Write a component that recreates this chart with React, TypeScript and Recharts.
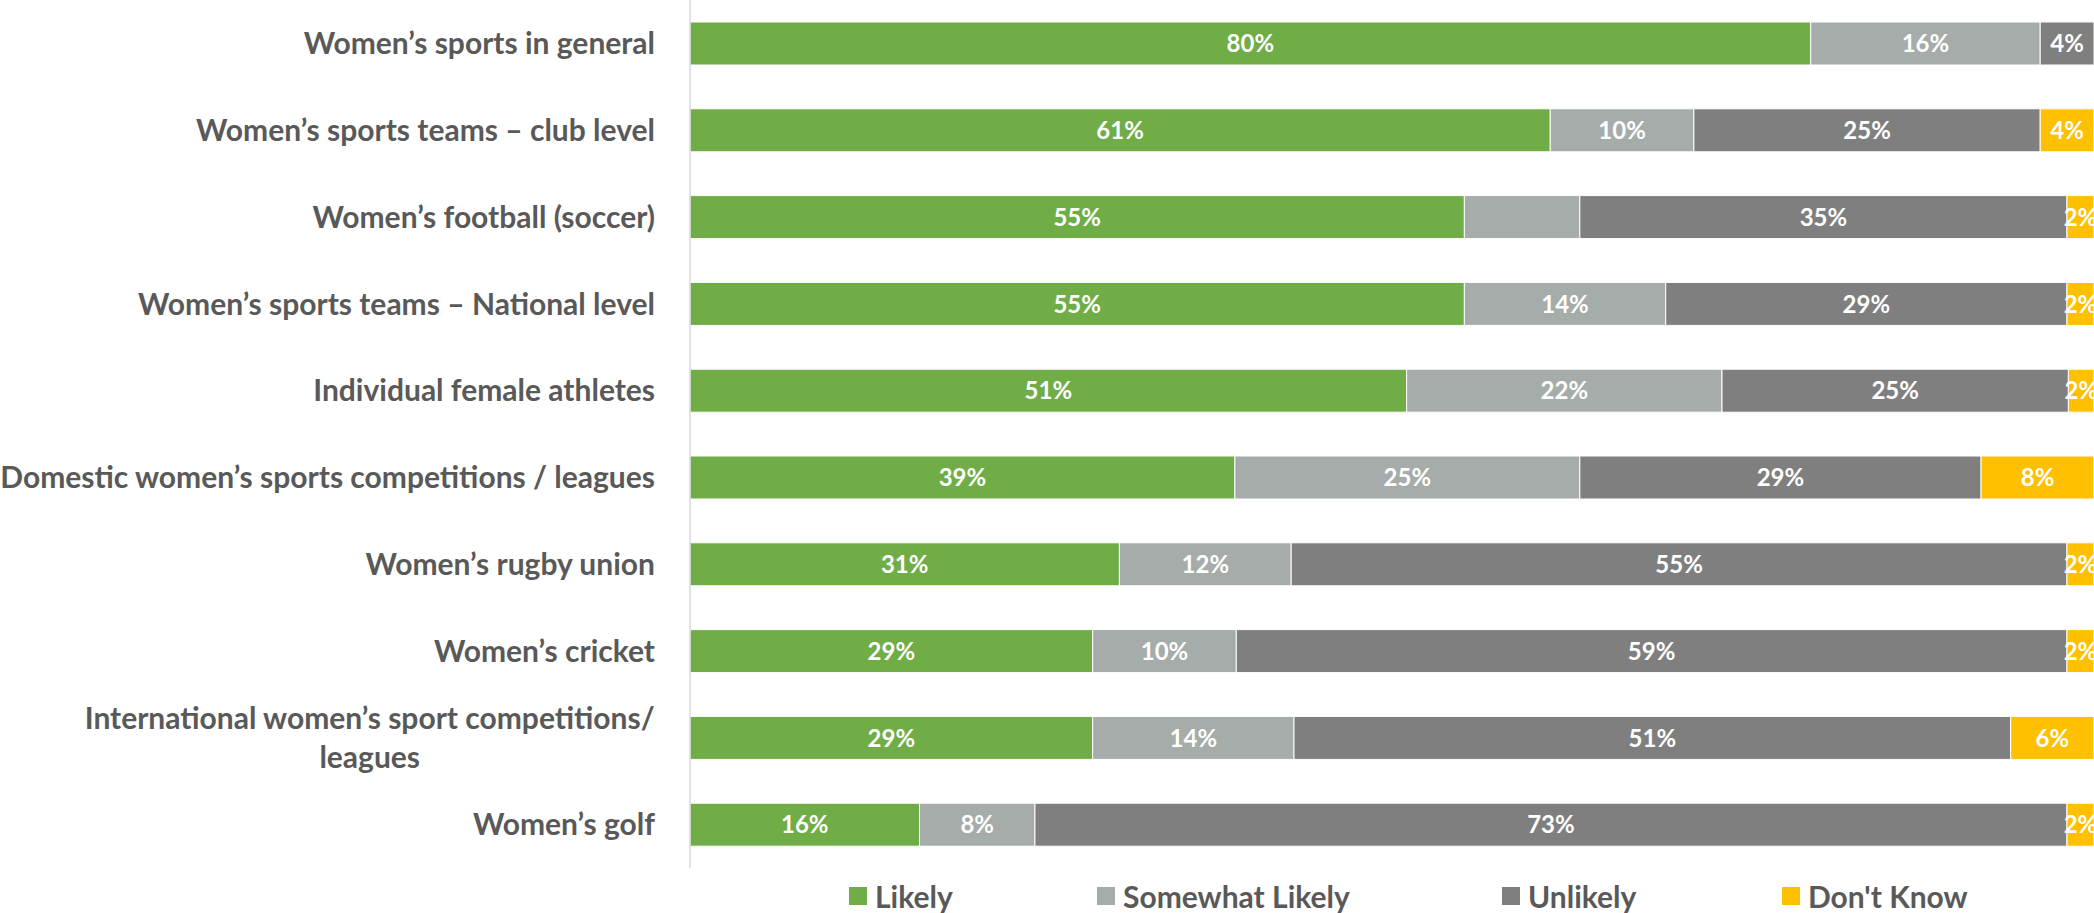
import React from 'react';
import { BarChart, Bar, XAxis, YAxis, Legend, LabelList } from 'recharts';

const categories = [
  'Women’s sports in general',
  'Women’s sports teams – club level',
  'Women’s football (soccer)',
  'Women’s sports teams – National level',
  'Individual female athletes',
  'Domestic women’s sports competitions / leagues',
  'Women’s rugby union',
  'Women’s cricket',
  'International women’s sport competitions/\nleagues',
  'Women’s golf',
];
const likely = [79.6, 61.1, 55.0, 55.0, 50.9, 38.7, 30.5, 28.6, 28.6, 16.3];
const somewhatLikely = [16.3, 10.2, 8.2, 14.3, 22.4, 24.5, 12.2, 10.2, 14.3, 8.2];
const unlikely = [4.1, 24.6, 34.6, 28.5, 24.6, 28.5, 55.1, 59.0, 50.9, 73.3];
const dontKnow = [0, 4.1, 2.2, 2.2, 2.1, 8.3, 2.2, 2.2, 6.2, 2.2];
const seriesNames = ['Likely', 'Somewhat Likely', 'Unlikely', "Don't Know"];
// the "Somewhat Likely" label on the football row is not shown in the source
const hiddenLabels = [{ key: 'somewhat', row: 2 }];

const keys = ['likely', 'somewhat', 'unlikely', 'dontKnow'];
const colors = ['#70AD47', '#A5ACA9', '#7F7F7F', '#FFC000'];
const FONT = 'Lato, "Open Sans", sans-serif';
const TICK_SIZE = 30;

const data = categories.map((name, i) => ({
  name,
  likely: likely[i],
  somewhat: somewhatLikely[i],
  unlikely: unlikely[i],
  dontKnow: dontKnow[i],
}));

let ctx: CanvasRenderingContext2D | null = null;
function measure(text: string) {
  if (!ctx) ctx = document.createElement('canvas').getContext('2d');
  if (!ctx) return text.length * TICK_SIZE * 0.5;
  ctx.font = `bold ${TICK_SIZE}px Lato`;
  return ctx.measureText(text).width;
}

function CategoryTick(props: any) {
  const { x, y, payload } = props;
  const lines = String(payload.value).split('\n');
  const right = x - 35;
  const style = { fontFamily: FONT, fontWeight: 700, fontSize: TICK_SIZE, fill: '#595959' };
  if (lines.length === 1) {
    return (
      <text x={right} y={y} dy="0.36em" textAnchor="end" style={style}>
        {lines[0]}
      </text>
    );
  }
  const cx = right - measure(lines[0]) / 2;
  const lh = 39;
  const start = y - ((lines.length - 1) * lh) / 2;
  return (
    <text textAnchor="middle" style={style}>
      {lines.map((l, i) => (
        <tspan key={i} x={cx} y={start + i * lh} dy="0.36em">
          {l}
        </tspan>
      ))}
    </text>
  );
}

function makeLabel(key: string) {
  return (props: any) => {
    const { x, y, width, height, value, index } = props;
    if (hiddenLabels.some((h) => h.key === key && h.row === index)) return null;
    return (
      <text
        x={Number(x) + Number(width) / 2}
        y={Number(y) + Number(height) / 2}
        dy="0.36em"
        textAnchor="middle"
        style={{ fontFamily: FONT, fontWeight: 700, fontSize: 24, fill: '#ffffff' }}
      >
        {Math.round(Number(value))}%
      </text>
    );
  };
}

const legendStarts = [849, 1097, 1502, 1782];

function LegendContent() {
  return (
    <div style={{ position: 'relative', height: 30, fontFamily: FONT, fontWeight: 700, fontSize: 30, color: '#595959' }}>
      {seriesNames.map((n, i) => (
        <div
          key={n}
          style={{ position: 'absolute', left: legendStarts[i], top: 0, height: 30, display: 'flex', alignItems: 'center', whiteSpace: 'nowrap' }}
        >
          <span style={{ display: 'inline-block', width: 18, height: 18, background: colors[i], marginRight: 8 }} />
          <span>{n}</span>
        </div>
      ))}
    </div>
  );
}

export default function App() {
  return (
    <div style={{ width: 2094, height: 913, overflow: 'hidden', background: '#fff' }}>
      <style>{'body{margin:0}'}</style>
      <BarChart
        width={2094}
        height={913}
        data={data}
        layout="vertical"
        margin={{ top: 0, right: 0, bottom: 15, left: 0 }}
        barSize={43}
      >
        <XAxis type="number" domain={[0, 99.72]} allowDataOverflow hide />
        <YAxis
          type="category"
          dataKey="name"
          width={690}
          tickLine={false}
          tickSize={0}
          tickMargin={0}
          axisLine={{ stroke: '#D9D9D9', strokeWidth: 1.5 }}
          tick={<CategoryTick />}
          interval={0}
        />
        <Legend
          verticalAlign="bottom"
          content={<LegendContent />}
          wrapperStyle={{ left: 0, width: 2094, bottom: 2 }}
        />
        {keys.map((k, i) => (
          <Bar
            key={k}
            dataKey={k}
            name={seriesNames[i]}
            stackId="a"
            fill={colors[i]}
            stroke="#ffffff"
            strokeWidth={1}
            isAnimationActive={false}
          >
            <LabelList dataKey={k} content={makeLabel(k)} />
          </Bar>
        ))}
      </BarChart>
    </div>
  );
}
